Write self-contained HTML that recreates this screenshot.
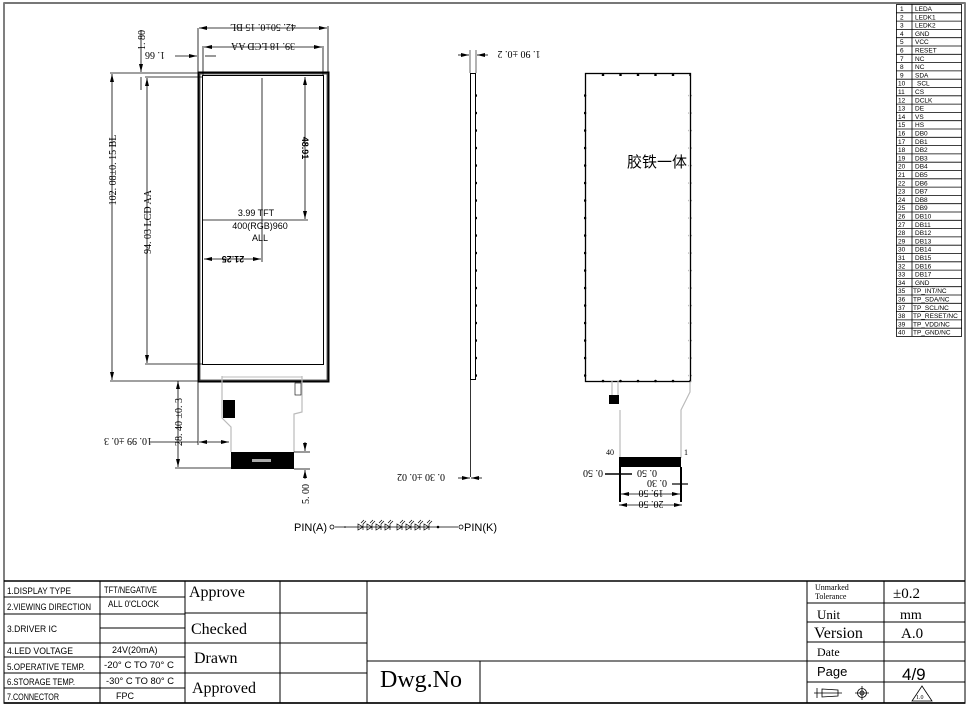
<!DOCTYPE html>
<html><head><meta charset="utf-8"><style>
html,body{margin:0;padding:0;background:#fff}
svg{display:block}
text{font-family:"Liberation Serif","Noto Serif CJK SC",serif}
.s, .s text{font-family:"Liberation Sans",sans-serif}
.m text{font-family:"Liberation Sans Narrow","Liberation Sans",sans-serif}
</style></head><body>
<svg width="966" height="705" viewBox="0 0 966 705" xmlns="http://www.w3.org/2000/svg">
<defs>
<pattern id="dv" width="6" height="17.5" patternUnits="userSpaceOnUse"><circle cx="3" cy="8" r="1.3" fill="#000"/></pattern>
<pattern id="dh" width="17.5" height="6" patternUnits="userSpaceOnUse"><circle cx="8" cy="3" r="1.3" fill="#000"/></pattern>
<marker id="a" markerWidth="8" markerHeight="6" refX="8" refY="3" orient="auto-start-reverse" markerUnits="userSpaceOnUse"><path d="M0,1 L8,3 L0,5z" fill="#000"/></marker>
<g id="dio"><path d="M0,-3 L0,3 L5,0 Z M5,-3 V3 M3,-4 L6,-7 M5,-3 L8,-6" fill="none" stroke="#000" stroke-width="0.7"/></g>
</defs>
<rect x="4" y="3" width="961" height="700" fill="none" stroke="#555" stroke-width="1.5"/>
<line x1="4" y1="3" x2="965" y2="3" stroke="#777" stroke-width="2"/>

<g stroke="#000" fill="none">
<rect x="198.5" y="72.5" width="130" height="309" stroke-width="2"/>
<rect x="202.5" y="75.5" width="121" height="289" stroke-width="1"/>
<rect x="200" y="74" width="127" height="306" stroke-width="0.6"/>
<line x1="198" y1="28" x2="198" y2="72" stroke-width="0.8"/><line x1="328" y1="26" x2="328" y2="72" stroke-width="0.8"/>
<line x1="199" y1="28" x2="327" y2="28" stroke-width="0.8" marker-start="url(#a)" marker-end="url(#a)"/>
<line x1="203" y1="46" x2="203" y2="75" stroke-width="0.8"/><line x1="323" y1="46" x2="323" y2="75" stroke-width="0.8"/>
<line x1="204" y1="47" x2="322" y2="47" stroke-width="0.8" marker-start="url(#a)" marker-end="url(#a)"/>
<line x1="175" y1="56" x2="197" y2="56" stroke-width="0.8" marker-end="url(#a)"/>
<line x1="205" y1="56" x2="216" y2="56" stroke-width="0.8"/>
<line x1="110" y1="73" x2="198" y2="73" stroke-width="0.8"/>
<line x1="110" y1="381" x2="198" y2="381" stroke-width="0.8"/>
<line x1="112" y1="74" x2="112" y2="380" stroke-width="0.8" marker-start="url(#a)" marker-end="url(#a)"/>
<line x1="145" y1="77" x2="203" y2="77" stroke-width="0.8"/>
<line x1="145" y1="364" x2="203" y2="364" stroke-width="0.8"/>
<line x1="147" y1="78" x2="147" y2="363" stroke-width="0.8" marker-start="url(#a)" marker-end="url(#a)"/>
<line x1="141" y1="30" x2="141" y2="72" stroke-width="0.8" marker-end="url(#a)"/>
<line x1="141" y1="77" x2="141" y2="90" stroke-width="0.8"/>
<line x1="305" y1="77" x2="305" y2="219" stroke-width="0.8" marker-start="url(#a)" marker-end="url(#a)"/>
<line x1="203" y1="220" x2="308" y2="220" stroke-width="0.8"/>
<line x1="262" y1="78" x2="262" y2="262" stroke-width="0.8"/>
<line x1="204" y1="259" x2="261" y2="259" stroke-width="0.8" marker-start="url(#a)" marker-end="url(#a)"/>
<path d="M222,376 V418 L231,427 V452 M302,376 V412 L294,414 V452" stroke="#bbb" stroke-width="1.2"/>
<line x1="222" y1="377" x2="302" y2="377" stroke="#bbb"/>
<rect x="231" y="452" width="63" height="17" fill="#000" stroke="none"/>
<rect x="252" y="459" width="19" height="3" fill="#aaa" stroke="none"/>
<rect x="223" y="400" width="12" height="18" fill="#000" stroke="none"/>
<rect x="295" y="383" width="6" height="12" stroke-width="0.6"/>
<line x1="178" y1="381" x2="178" y2="467" stroke-width="0.8" marker-start="url(#a)" marker-end="url(#a)"/>
<line x1="175" y1="468" x2="231" y2="468" stroke-width="0.8"/>
<line x1="198" y1="381" x2="198" y2="445" stroke-width="0.8"/>
<line x1="150" y1="442" x2="198" y2="442" stroke-width="0.8"/>
<line x1="199" y1="442" x2="229" y2="442" stroke-width="0.8" marker-start="url(#a)" marker-end="url(#a)"/>
<line x1="294" y1="452" x2="310" y2="452" stroke-width="0.8"/><line x1="294" y1="469" x2="310" y2="469" stroke-width="0.8"/>
<line x1="305" y1="442" x2="305" y2="451" stroke-width="0.8" marker-end="url(#a)"/>
<line x1="305" y1="479" x2="305" y2="470" stroke-width="0.8" marker-end="url(#a)"/>
<rect x="470.5" y="73.5" width="5" height="306" stroke-width="1"/>
<line x1="470.5" y1="380" x2="470.5" y2="477" stroke-width="0.8"/>
<line x1="470" y1="50" x2="470" y2="73" stroke-width="0.6"/><line x1="476" y1="50" x2="476" y2="73" stroke-width="0.6"/>
<line x1="458" y1="55" x2="469" y2="55" stroke-width="0.8" marker-end="url(#a)"/>
<line x1="488" y1="55" x2="477" y2="55" stroke-width="0.8" marker-end="url(#a)"/>
<line x1="458" y1="478" x2="470" y2="478" stroke-width="0.8" marker-end="url(#a)"/>
<line x1="482" y1="478" x2="471" y2="478" stroke-width="0.8" marker-end="url(#a)"/>
<rect x="585.5" y="73.5" width="105" height="308" stroke-width="1.3"/>
<path d="M612,381 V404 M618,381 V404 M690,381 V392 L681,410 V458 M620,410 V458" stroke="#bbb" stroke-width="1.2"/>
<rect x="609" y="395" width="10" height="9" fill="#000" stroke="none"/>
<rect x="619" y="457" width="62" height="10" fill="#000" stroke="none"/>
<line x1="620" y1="467" x2="620" y2="502" stroke-width="2"/>
<line x1="681" y1="467" x2="681" y2="502" stroke-width="2"/>
<line x1="605" y1="474" x2="632" y2="474" stroke-width="1.5"/>
<line x1="672" y1="484" x2="688" y2="484" stroke-width="1.2"/>
<line x1="621" y1="494" x2="680" y2="494" stroke-width="0.8" marker-start="url(#a)" marker-end="url(#a)"/>
<line x1="619" y1="505" x2="682" y2="505" stroke-width="0.8" marker-start="url(#a)" marker-end="url(#a)"/>
<line x1="335" y1="527" x2="458" y2="527" stroke-width="0.8"/>
<circle cx="461" cy="527" r="2" stroke-width="0.8"/>
<circle cx="332" cy="527" r="2" stroke-width="0.8"/>
</g>
<use href="#dio" x="358" y="527"/><use href="#dio" x="367" y="527"/><use href="#dio" x="376" y="527"/><use href="#dio" x="385" y="527"/>
<use href="#dio" x="397" y="527"/><use href="#dio" x="406" y="527"/><use href="#dio" x="415" y="527"/><use href="#dio" x="424" y="527"/>
<rect x="474" y="80" width="3" height="300" fill="url(#dv)"/>
<rect x="584" y="80" width="4" height="300" fill="url(#dv)"/>
<rect x="688" y="80" width="4" height="300" fill="url(#dv)"/>
<rect x="590" y="71" width="100" height="5" fill="url(#dh)"/>
<rect x="590" y="379" width="100" height="5" fill="url(#dh)"/>
<circle cx="438" cy="527" r="1.3" fill="#000"/>
<circle cx="345" cy="527" r="0.8" fill="#000"/>
<text x="294" y="531" class="s" font-size="11">PIN(A)</text>
<text x="464" y="531" class="s" font-size="11">PIN(K)</text>

<g font-size="10" fill="#000">
<text transform="translate(263,28) rotate(180)" text-anchor="middle" dy="4">42. 50±0. 15 BL</text>
<text transform="translate(263,47) rotate(180)" text-anchor="middle" dy="4">39. 18 LCD AA</text>
<text transform="translate(155,56) rotate(180)" text-anchor="middle" dy="4">1. 66</text>
<text transform="translate(141,40) rotate(-90)" text-anchor="middle" dy="4">1. 80</text>
<text transform="translate(112,170) rotate(-90)" text-anchor="middle" dy="4">102. 08±0. 15 BL</text>
<text transform="translate(147,222) rotate(-90)" text-anchor="middle" dy="4">94. 03 LCD AA</text>
<text transform="translate(178,422) rotate(-90)" text-anchor="middle" dy="4">28. 40 ±0. 3</text>
<text transform="translate(128,442) rotate(180)" text-anchor="middle" dy="4">10. 99 ±0. 3</text>
<text transform="translate(305,494) rotate(-90)" text-anchor="middle" dy="4">5. 00</text>
<text transform="translate(519,55) rotate(180)" text-anchor="middle" dy="4">1. 90 ±0. 2</text>
<text transform="translate(421,478) rotate(180)" text-anchor="middle" dy="4">0. 30 ±0. 02</text>
<text transform="translate(593,474) rotate(180)" text-anchor="middle" dy="4">0. 50</text>
<text transform="translate(647,474) rotate(180)" text-anchor="middle" dy="4">0. 50</text>
<text transform="translate(657,484) rotate(180)" text-anchor="middle" dy="4">0. 30</text>
<text transform="translate(651,494) rotate(180)" text-anchor="middle" dy="4">19. 50</text>
<text transform="translate(651,505) rotate(180)" text-anchor="middle" dy="4">20. 50</text>
<text x="606" y="455" font-size="8">40</text>
<text x="684" y="455" font-size="8">1</text>
</g>
<g class="s" font-size="9" fill="#000">
<text transform="translate(305,148) rotate(90)" text-anchor="middle" dy="3" font-weight="bold">48.91</text>
<text transform="translate(233,259) rotate(180)" text-anchor="middle" dy="3" font-weight="bold">21.25</text>
<text x="256" y="216" text-anchor="middle">3.99  TFT</text>
<text x="260" y="229" text-anchor="middle">400(RGB)960</text>
<text x="260" y="241" text-anchor="middle">ALL</text>
</g>
<text x="657" y="167" font-size="15" text-anchor="middle" style="font-family:'Noto Sans CJK SC',sans-serif">胶铁一体</text>

<g stroke="#000" stroke-width="0.8" fill="none">
<rect x="896.5" y="4.5" width="65" height="332"/>
<line x1="912" y1="4" x2="912" y2="336"/>
<path d="M896,12.8H962M896,21.1H962M896,29.4H962M896,37.7H962M896,46H962M896,54.3H962M896,62.6H962M896,70.9H962M896,79.2H962M896,87.5H962M896,95.8H962M896,104.1H962M896,112.4H962M896,120.7H962M896,129H962M896,137.3H962M896,145.6H962M896,153.9H962M896,162.2H962M896,170.5H962M896,178.8H962M896,187.1H962M896,195.4H962M896,203.7H962M896,212H962M896,220.3H962M896,228.6H962M896,236.9H962M896,245.2H962M896,253.5H962M896,261.8H962M896,270.1H962M896,278.4H962M896,286.7H962M896,295H962M896,303.3H962M896,311.6H962M896,319.9H962M896,328.2H962"/>
</g>
<g class="s" font-size="6.5" fill="#000">
<text x="900" y="11">1</text><text x="915" y="11">LEDA</text>
<text x="900" y="19.3">2</text><text x="915" y="19.3">LEDK1</text>
<text x="900" y="27.6">3</text><text x="915" y="27.6">LEDK2</text>
<text x="900" y="35.9">4</text><text x="915" y="35.9">GND</text>
<text x="900" y="44.2">5</text><text x="915" y="44.2">VCC</text>
<text x="900" y="52.5">6</text><text x="915" y="52.5">RESET</text>
<text x="900" y="60.8">7</text><text x="915" y="60.8">NC</text>
<text x="900" y="69.1">8</text><text x="915" y="69.1">NC</text>
<text x="900" y="77.4">9</text><text x="915" y="77.4">SDA</text>
<text x="898" y="85.7">10</text><text x="917" y="85.7">SCL</text>
<text x="898" y="94">11</text><text x="915" y="94">CS</text>
<text x="898" y="102.3">12</text><text x="915" y="102.3">DCLK</text>
<text x="898" y="110.6">13</text><text x="915" y="110.6">DE</text>
<text x="898" y="118.9">14</text><text x="915" y="118.9">VS</text>
<text x="898" y="127.2">15</text><text x="915" y="127.2">HS</text>
<text x="898" y="135.5">16</text><text x="915" y="135.5">DB0</text>
<text x="898" y="143.8">17</text><text x="915" y="143.8">DB1</text>
<text x="898" y="152.1">18</text><text x="915" y="152.1">DB2</text>
<text x="898" y="160.4">19</text><text x="915" y="160.4">DB3</text>
<text x="898" y="168.7">20</text><text x="915" y="168.7">DB4</text>
<text x="898" y="177">21</text><text x="915" y="177">DB5</text>
<text x="898" y="185.3">22</text><text x="915" y="185.3">DB6</text>
<text x="898" y="193.6">23</text><text x="915" y="193.6">DB7</text>
<text x="898" y="201.9">24</text><text x="915" y="201.9">DB8</text>
<text x="898" y="210.2">25</text><text x="915" y="210.2">DB9</text>
<text x="898" y="218.5">26</text><text x="915" y="218.5">DB10</text>
<text x="898" y="226.8">27</text><text x="915" y="226.8">DB11</text>
<text x="898" y="235.1">28</text><text x="915" y="235.1">DB12</text>
<text x="898" y="243.4">29</text><text x="915" y="243.4">DB13</text>
<text x="898" y="251.7">30</text><text x="915" y="251.7">DB14</text>
<text x="898" y="260">31</text><text x="915" y="260">DB15</text>
<text x="898" y="268.3">32</text><text x="915" y="268.3">DB16</text>
<text x="898" y="276.6">33</text><text x="915" y="276.6">DB17</text>
<text x="898" y="284.9">34</text><text x="915" y="284.9">GND</text>
<text x="898" y="293.2">35</text><text x="913" y="293.2">TP_INT/NC</text>
<text x="898" y="301.5">36</text><text x="913" y="301.5">TP_SDA/NC</text>
<text x="898" y="309.8">37</text><text x="913" y="309.8">TP_SCL/NC</text>
<text x="898" y="318.1">38</text><text x="913" y="318.1">TP_RESET/NC</text>
<text x="898" y="326.4">39</text><text x="913" y="326.4">TP_VDD/NC</text>
<text x="898" y="334.7">40</text><text x="913" y="334.7">TP_GND/NC</text>
</g>

<g stroke="#000" stroke-width="1" fill="none">
<line x1="4" y1="581" x2="965" y2="581" stroke-width="1.5"/>
<line x1="4" y1="703" x2="965" y2="703" stroke-width="1.5"/>
<line x1="100" y1="581" x2="100" y2="703"/>
<line x1="185" y1="581" x2="185" y2="703"/>
<line x1="280" y1="581" x2="280" y2="703"/>
<line x1="367" y1="581" x2="367" y2="703"/>
<line x1="480" y1="661" x2="480" y2="703"/>
<line x1="807" y1="581" x2="807" y2="703"/>
<line x1="884" y1="581" x2="884" y2="703"/>
<path d="M4,597H185M4,614H185M100,628H185M4,643H185M4,657H185M4,673H185M4,688H185"/>
<path d="M185,613H367M185,643H367M185,673H367"/>
<path d="M367,661H807"/>
<path d="M807,603H965M807,622H965M807,642H965M807,661H965M807,682H965"/>
</g>
<g class="m" font-size="9" fill="#000">
<text x="7" y="594" textLength="64" lengthAdjust="spacingAndGlyphs">1.DISPLAY TYPE</text>
<text x="7" y="610" textLength="84" lengthAdjust="spacingAndGlyphs">2.VIEWING DIRECTION</text>
<text x="7" y="632" textLength="50" lengthAdjust="spacingAndGlyphs">3.DRIVER IC</text>
<text x="7" y="654" textLength="66" lengthAdjust="spacingAndGlyphs">4.LED  VOLTAGE</text>
<text x="7" y="670" textLength="78" lengthAdjust="spacingAndGlyphs">5.OPERATIVE TEMP.</text>
<text x="7" y="685" textLength="68" lengthAdjust="spacingAndGlyphs">6.STORAGE TEMP.</text>
<text x="7" y="700" textLength="52" lengthAdjust="spacingAndGlyphs">7.CONNECTOR</text>
<text x="104" y="593" textLength="53" lengthAdjust="spacingAndGlyphs">TFT/NEGATIVE</text>
<text x="108" y="607" textLength="51" lengthAdjust="spacingAndGlyphs">ALL  0'CLOCK</text>
<text x="112" y="653">24V(20mA)</text>
<text x="104" y="668" textLength="70" lengthAdjust="spacingAndGlyphs">-20° C TO 70° C</text>
<text x="106" y="684" textLength="68" lengthAdjust="spacingAndGlyphs">-30° C TO 80° C</text>
<text x="116" y="699">FPC</text>
</g>
<g font-size="16" fill="#000">
<text x="189" y="597">Approve</text>
<text x="191" y="634">Checked</text>
<text x="194" y="663">Drawn</text>
<text x="192" y="693">Approved</text>
<text x="380" y="687" font-size="24">Dwg.No</text>
<text x="815" y="590" font-size="8">Unmarked</text>
<text x="815" y="599" font-size="8">Tolerance</text>
<text x="893" y="598" font-size="15">±0.2</text>
<text x="817" y="619" font-size="13">Unit</text>
<text x="900" y="619" font-size="14">mm</text>
<text x="814" y="638" font-size="16">Version</text>
<text x="901" y="638" font-size="15">A.0</text>
<text x="817" y="656" font-size="12">Date</text>
<text x="817" y="676" font-size="13" class="s">Page</text>
<text x="902" y="680" font-size="17" class="s">4/9</text>
</g>
<g stroke="#000" fill="none" stroke-width="0.8">
<path d="M817,688 V698 M822,689 L838,690 V696 L822,697 Z M814,693 H842"/>
<circle cx="862" cy="693" r="4.5"/><circle cx="862" cy="693" r="2"/><path d="M855,693H869M862,686V700"/>
<path d="M922,686 L912,701 H932 Z"/>
</g>
<text x="916" y="699" font-size="6" fill="#000">1.0</text>
</svg>
</body></html>
